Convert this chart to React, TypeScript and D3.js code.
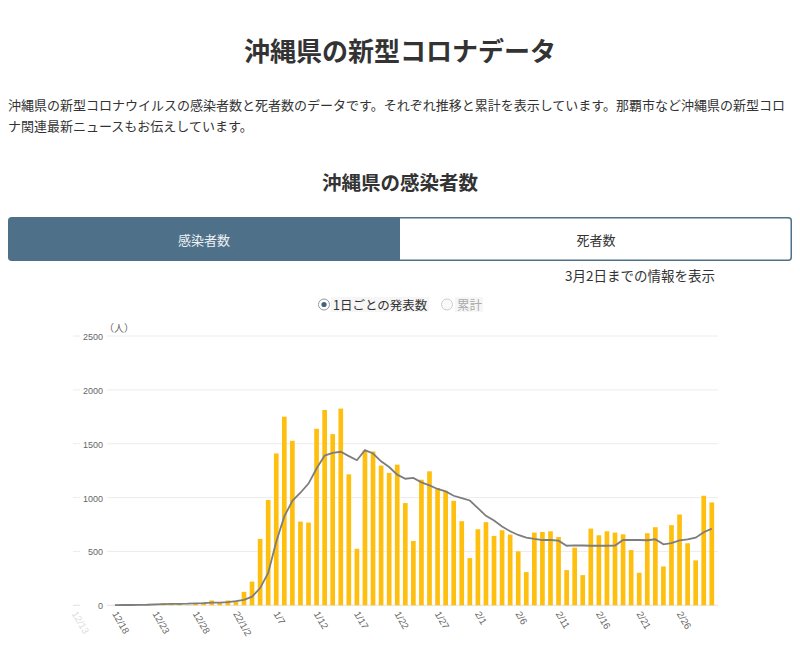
import React from "react";
import * as d3 from "d3";

const TITLE = "沖縄県の新型コロナデータ";
const DESC_LINES = [
  "沖縄県の新型コロナウイルスの感染者数と死者数のデータです。それぞれ推移と累計を表示しています。那覇市など沖縄県の新型コロ",
  "ナ関連最新ニュースもお伝えしています。",
];
const SUBTITLE = "沖縄県の感染者数";
const TABS = ["感染者数", "死者数"];
const NOTE = "3月2日までの情報を表示";
const RADIOS = ["1日ごとの発表数", "累計"];
const UNIT = "（人）";

const START = new Date(2021, 11, 13);
const END = new Date(2022, 2, 3);

// daily reported cases, 12/13 .. 3/2
const dailyCases = [
  0, 1, 0, 1, 0,
  1, 0, 2, 1, 3,
  5, 20, 20, 15, 3,
  20, 25, 45, 25, 45,
  35, 125, 220, 616, 977,
  1410, 1751, 1527, 777, 768,
  1639, 1813, 1589, 1826, 1216,
  525, 1436, 1428, 1297, 1229,
  1306, 949, 597, 1166, 1244,
  1089, 1064, 970, 781, 438,
  706, 772, 644, 697, 656,
  501, 308, 675, 681, 687,
  634, 327, 535, 280, 712,
  650, 687, 675, 659, 513,
  302, 669, 725, 361, 744,
  843, 576, 417, 1017, 955,
];

// 7-day average line, 12/13 .. 3/2
const averageLine: (number | null)[] = [
  null, null, null, null, null,
  2, 3, 3, 4, 5,
  8, 10, 13, 14, 15,
  18, 20, 24, 25, 30,
  38, 50, 80, 160, 300,
  590, 825, 970, 1045, 1130,
  1270, 1390, 1415, 1425, 1385,
  1347, 1440, 1409, 1337, 1284,
  1213, 1175, 1182, 1141, 1113,
  1080, 1057, 1017, 995, 973,
  902, 830, 787, 731, 687,
  653, 628, 616, 606, 606,
  600, 553, 557, 555, 553,
  553, 553, 555, 606, 606,
  606, 604, 613, 566, 578,
  603, 613, 628, 678, 712,
];

const xTickLabels = [
  "12/13", "12/18", "12/23", "12/28", "22/1/2", "1/7", "1/12", "1/17",
  "1/22", "1/27", "2/1", "2/6", "2/11", "2/16", "2/21", "2/26",
];
const yTicks = [0, 500, 1000, 1500, 2000, 2500];

const JP = "'Noto Sans CJK JP', 'Noto Sans', sans-serif";
const NUM = "'Liberation Sans', Arial, sans-serif";

export default function App() {
  const dates = d3.timeDay.range(START, END);
  const x = d3
    .scalePoint<number>()
    .domain(dates.map((_, i) => i))
    .range([74.6, 711.8]);
  const step = x.step();
  const barW = step * 0.58;
  const y = d3.scaleLinear().domain([0, 2500]).range([605.3, 336]);

  const line = d3
    .line<number | null>()
    .defined((d) => d != null)
    .x((_, i) => x(i) as number)
    .y((d) => y(d as number));

  const gridLeft = 73;
  const gridRight = 718;
  const tabColor = "#4e7189";

  return (
    <svg
      width={800}
      height={645}
      style={{ position: "absolute", left: 0, top: 0, background: "#fff" }}
    >
      <text x={400} y={49} textAnchor="middle" dominantBaseline="central"
        fontFamily={JP} fontSize={26} fontWeight={700} fill="#333">{TITLE}</text>
      {DESC_LINES.map((t, i) => (
        <text key={i} x={8} y={104 + i * 21} dominantBaseline="central"
          fontFamily={JP} fontSize={13} fill="#333">{t}</text>
      ))}
      <text x={400} y={181} textAnchor="middle" dominantBaseline="central"
        fontFamily={JP} fontSize={19.5} fontWeight={700} fill="#333">{SUBTITLE}</text>

      {/* tabs */}
      <rect x={8.75} y={217.75} width={782.5} height={42.5} rx={3} fill="#fff"
        stroke={tabColor} strokeWidth={1.5} />
      <path d="M8.75,220.75 a3,3 0 0 1 3,-3 H400 V260.25 H11.75 a3,3 0 0 1 -3,-3 Z" fill={tabColor} />
      <text x={204} y={239} textAnchor="middle" dominantBaseline="central"
        fontFamily={JP} fontSize={13} fill="#eef2f5">{TABS[0]}</text>
      <text x={596} y={239} textAnchor="middle" dominantBaseline="central"
        fontFamily={JP} fontSize={13} fill="#333">{TABS[1]}</text>
      <text x={715} y={275} textAnchor="end" dominantBaseline="central"
        fontFamily={JP} fontSize={13.5} fill="#333">{NOTE}</text>

      {/* radios */}
      <rect x={331} y={297} width={98} height={15} fill="#f6f6f6" />
      <circle cx={324} cy={304.5} r={5.5} fill="#fff" stroke="#999" strokeWidth={1} />
      <circle cx={324} cy={304.5} r={2.6} fill="#3f6583" />
      <text x={333} y={304.5} dominantBaseline="central" fontFamily={JP} fontSize={12.5}
        fill="#333">{RADIOS[0]}</text>
      <rect x={455} y={297} width={28} height={15} fill="#f6f6f6" />
      <circle cx={447} cy={304.5} r={5.5} fill="#fafafa" stroke="#ccc" strokeWidth={1} />
      <text x={457} y={304.5} dominantBaseline="central" fontFamily={JP} fontSize={12.5}
        fill="#aaa">{RADIOS[1]}</text>

      {/* grid */}
      {yTicks.map((t) => (
        <line key={t} x1={gridLeft} x2={gridRight} y1={y(t)} y2={y(t)}
          stroke={t === 0 ? "#e2e2e2" : "#ececec"} strokeWidth={1} />
      ))}
      {/* bars */}
      {dailyCases.map((v, i) => (
        <rect key={i} x={(x(i) as number) - barW / 2} y={y(v)} width={barW}
          height={Math.max(0, y(0) - y(v))} fill="#ffbf0f" />
      ))}
      <path d={line(averageLine) || ""} fill="none" stroke="#7d7d7d" strokeWidth={1.8} />

      {/* y axis overlay */}
      <rect x={80} y={325} width={27} height={285} fill="#fff" />
      {yTicks.map((t) => (
        <text key={t} x={103} y={y(t) + 1} textAnchor="end" dominantBaseline="central"
          fontFamily={NUM} fontSize={9} fill="#666">{t}</text>
      ))}
      <text x={104} y={327} dominantBaseline="central" fontFamily={JP} fontSize={10}
        fill="#666">{UNIT}</text>

      {/* x labels */}
      {xTickLabels.map((lab, k) => {
        const xi = x(k * 5) as number;
        return (
          <text key={lab} transform={`translate(${xi},612) rotate(60)`}
            dominantBaseline="central" fontFamily={NUM} fontSize={9.6}
            fill={k === 0 ? "#dcdcdc" : "#666"}>{lab}</text>
        );
      })}
    </svg>
  );
}
